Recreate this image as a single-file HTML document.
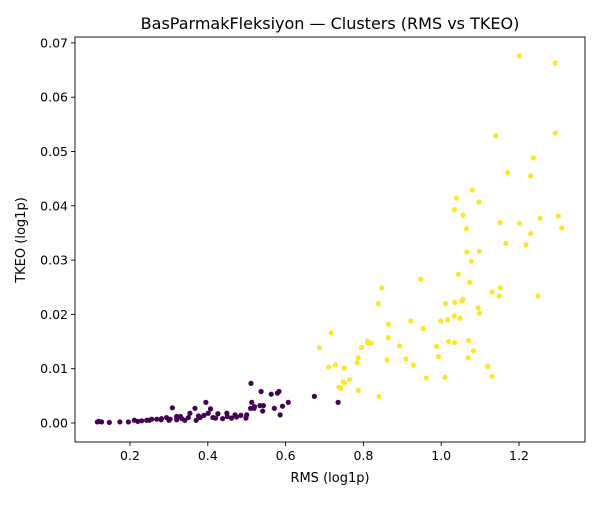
<!DOCTYPE html>
<html><head><meta charset="utf-8"><style>
body{margin:0;background:#fff;}
svg text{font-family:"DejaVu Sans","Liberation Sans",sans-serif;fill:#000;}
</style></head><body>
<svg id="chart" width="600" height="500" xmlns="http://www.w3.org/2000/svg">
<rect width="600" height="500" fill="#fff"/>
<text x="330" y="29" text-anchor="middle" font-size="16">BasParmakFleksiyon — Clusters (RMS vs TKEO)</text>
<g id="marks"></g>
<g id="axes"></g>
<text x="330" y="482" text-anchor="middle" font-size="13">RMS (log1p)</text>
<text x="0" y="0" transform="translate(25,240) rotate(-90)" text-anchor="middle" font-size="13">TKEO (log1p)</text>
</svg>
<script>
const xTicks = [0.2,0.4,0.6,0.8,1.0,1.2];
const xTickLabels = ["0.2","0.4","0.6","0.8","1.0","1.2"];
const yTicks = [0,0.01,0.02,0.03,0.04,0.05,0.06,0.07];
const yTickLabels = ["0.00","0.01","0.02","0.03","0.04","0.05","0.06","0.07"];
const clusterAX = [0.116,0.127,0.147,0.174,0.196,0.211,0.230,0.243,0.256,0.269,0.281,0.294,0.303,0.309,0.320,0.333,0.341,0.354,0.367,0.376,0.380,0.395,0.401,0.407,0.413,0.426,0.438,0.449,0.461,0.474,0.485,0.498,0.500,0.511,0.513,0.519,0.534,0.543,0.537,0.541,0.563,0.579,0.583,0.571,0.586,0.592,0.607,0.674,0.735,0.12,0.22,0.25,0.28,0.30,0.32,0.33,0.35,0.37,0.39,0.42,0.45,0.47,0.51,0.52];
const clusterAY = [0.0002,0.0002,0.0001,0.0002,0.0002,0.0005,0.0004,0.0005,0.0007,0.0007,0.0008,0.0010,0.0007,0.0028,0.0012,0.0008,0.0005,0.0018,0.0027,0.0013,0.0010,0.0038,0.0018,0.0026,0.0010,0.0017,0.0008,0.0018,0.0009,0.0011,0.0014,0.0009,0.0015,0.0073,0.0038,0.0027,0.0032,0.0032,0.0058,0.0022,0.0053,0.0055,0.0058,0.0027,0.0015,0.0031,0.0038,0.0049,0.0038,0.0003,0.0003,0.0005,0.0006,0.0005,0.0006,0.0012,0.0010,0.0005,0.0014,0.0009,0.0012,0.0015,0.0027,0.0030];
const clusterBX = [1.201,1.293,1.140,1.293,1.237,1.171,1.230,1.080,1.039,1.097,1.034,1.056,1.152,1.201,1.254,1.301,1.310,1.230,1.065,1.166,1.218,1.066,1.098,1.077,1.044,0.947,1.073,0.847,1.131,1.152,1.149,1.249,0.838,1.011,1.035,1.056,1.053,1.095,1.098,1.034,1.048,1.017,0.999,0.922,0.864,0.954,0.717,0.864,0.811,0.820,0.811,0.687,0.795,0.893,0.988,1.019,1.034,1.070,1.083,0.993,1.069,0.787,0.784,0.861,0.909,0.928,0.711,0.728,0.751,1.120,1.131,0.764,0.748,0.751,0.737,0.742,0.787,0.962,1.010,0.840];
const clusterBY = [0.0676,0.0663,0.0529,0.0534,0.0488,0.0461,0.0455,0.0429,0.0414,0.0407,0.0393,0.0383,0.0369,0.0368,0.0377,0.0381,0.0359,0.0349,0.0358,0.0331,0.0328,0.0315,0.0316,0.0298,0.0274,0.0265,0.0259,0.0249,0.0241,0.0249,0.0234,0.0234,0.0220,0.0220,0.0222,0.0228,0.0225,0.0212,0.0202,0.0197,0.0193,0.0190,0.0188,0.0188,0.0182,0.0174,0.0166,0.0157,0.0151,0.0147,0.0147,0.0139,0.0139,0.0142,0.0141,0.0150,0.0148,0.0152,0.0133,0.0122,0.0120,0.0120,0.0111,0.0116,0.0118,0.0107,0.0103,0.0107,0.0101,0.0104,0.0086,0.0080,0.0076,0.0074,0.0066,0.0064,0.0060,0.0083,0.0084,0.0049];

const NS='http://www.w3.org/2000/svg';
const L=75,R=585,T=37,B=442;
function xs(v){return 52.2+389*v;}
function ys(v){return 423-5430*v;}
const marks=document.getElementById('marks');
const axes=document.getElementById('axes');
function dot(x,y,c,name){
  const e=document.createElementNS(NS,'circle');
  e.setAttribute('cx',xs(x));e.setAttribute('cy',ys(y));e.setAttribute('r',2.6);e.setAttribute('fill',c);
  
  
  marks.appendChild(e);
}
clusterAX.forEach((x,i)=>dot(x,clusterAY[i],'#440154','cluster-0-point'));
clusterBX.forEach((x,i)=>dot(x,clusterBY[i],'#fde725','cluster-1-point'));
function line(x1,y1,x2,y2,name){
  const e=document.createElementNS(NS,'line');
  e.setAttribute('x1',x1);e.setAttribute('y1',y1);e.setAttribute('x2',x2);e.setAttribute('y2',y2);
  e.setAttribute('stroke','#000');e.setAttribute('stroke-width',0.9);
  
  
  axes.appendChild(e);
}
function txt(x,y,s,anchor,name){
  const e=document.createElementNS(NS,'text');
  e.setAttribute('x',x);e.setAttribute('y',y);e.setAttribute('text-anchor',anchor);e.setAttribute('font-size','12.5');
  e.textContent=s;
  
  
  axes.appendChild(e);
}
const frame=document.createElementNS(NS,'rect');
frame.setAttribute('x',L);frame.setAttribute('y',T);frame.setAttribute('width',R-L);frame.setAttribute('height',B-T);
frame.setAttribute('fill','none');frame.setAttribute('stroke','#000');frame.setAttribute('stroke-width',0.9);


axes.appendChild(frame);
xTicks.forEach((v,i)=>{line(xs(v),B,xs(v),B+4,'x-tick');txt(xs(v),B+18,xTickLabels[i],'middle','x-tick-label');});
yTicks.forEach((v,i)=>{line(L-4,ys(v),L,ys(v),'y-tick');txt(L-7,ys(v)+4.5,yTickLabels[i],'end','y-tick-label');});
</script>
</body></html>
